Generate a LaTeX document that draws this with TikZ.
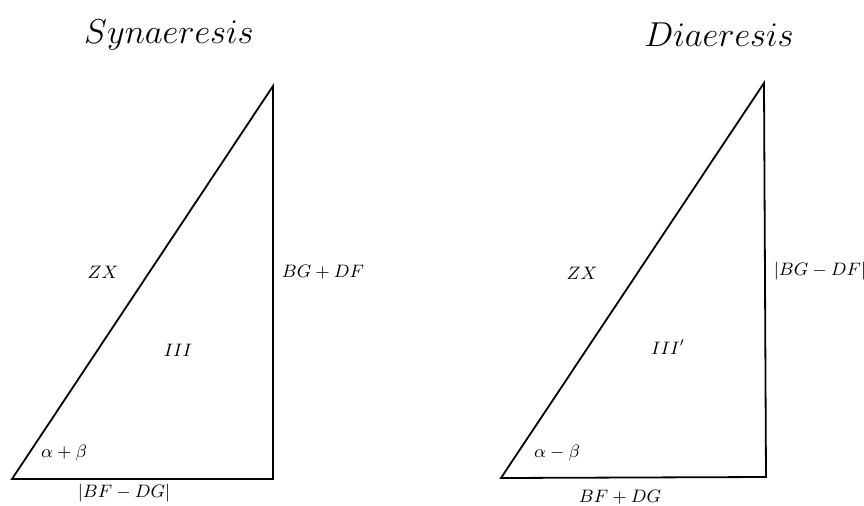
\documentclass[tikz,border=0pt]{standalone}
\begin{document}
\begin{tikzpicture}[x=0.5pt,y=-0.5pt,
  edge/.style={line width=0.9pt,line join=miter},
  lbl/.style={inner sep=0pt,font=\fontsize{9}{11}\selectfont},
  ttl/.style={inner sep=0pt,font=\fontsize{19}{23}\selectfont}]
\useasboundingbox (0,0) rectangle (864,505);
% left triangle
\coordinate (A1) at (12,479);
\coordinate (B1) at (273,479);
\coordinate (C1) at (273,86);
\draw[edge] (A1) -- (B1) -- (C1) -- cycle;
% right triangle
\coordinate (A2) at (501,478);
\coordinate (B2) at (766,477);
\coordinate (C2) at (764,83);
\draw[edge] (A2) -- (B2) -- (C2) -- cycle;
% titles
\node[ttl] (t1) at (169,35) {$Synaeresis$};
\node[ttl] (t2) at (719,35) {$Diaeresis$};
% left labels
\node[lbl] (zx1) at (103,272) {$ZX$};
\node[lbl] (s1) at (323,272) {$BG+DF$};
\node[lbl] (r1) at (178,350) {$III$};
\node[lbl] (a1) at (64,453) {$\alpha+\beta$};
\node[lbl] (b1) at (124,493) {$|BF-DG|$};
% right labels
\node[lbl] (zx2) at (582,273) {$ZX$};
\node[lbl] (s2) at (820,271) {$|BG-DF|$};
\node[lbl] (r2) at (668,347) {$III'$};
\node[lbl] (a2) at (557,453) {$\alpha-\beta$};
\node[lbl] (b2) at (620,497) {$BF+DG$};
\end{tikzpicture}
\end{document}
